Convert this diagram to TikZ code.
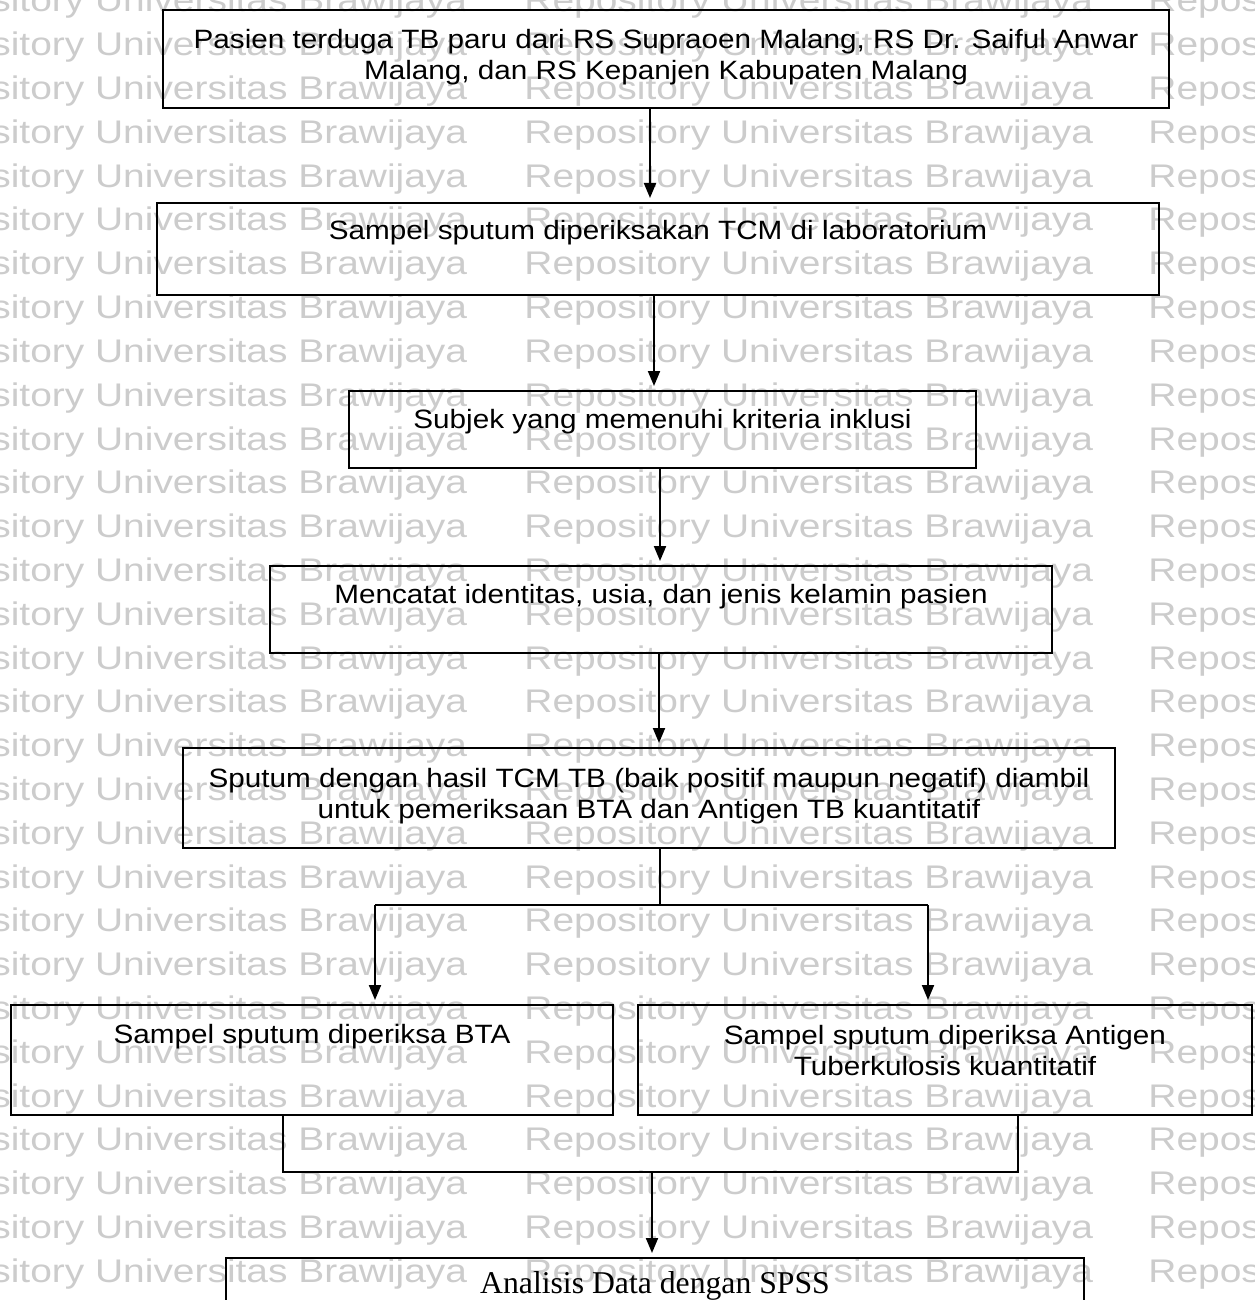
\documentclass[tikz,border=0pt]{standalone}
\usepackage{fontspec}
\setmainfont{Liberation Sans}
\newfontfamily\boxfont[FakeStretch=1.12]{Liberation Sans}
\newfontfamily\wmfont[FakeStretch=1.19]{Liberation Sans}
\newfontfamily\spssfont{Liberation Serif}
\usetikzlibrary{arrows.meta,calc}
\begin{document}
\begin{tikzpicture}[x=0.5pt,y=-0.5pt,
  stepbox/.style={draw=black, line width=1pt, inner sep=0pt, anchor=north west},
  boxtext/.style={font=\boxfont\fontsize{13.25pt}{15.5pt}\selectfont, align=center, anchor=base, inner sep=0pt},
  serifbox/.style={font=\spssfont\fontsize{15.85pt}{18pt}\selectfont, anchor=base, inner sep=0pt},
  wmtext/.style={font=\wmfont\fontsize{16.35pt}{18pt}\selectfont, text=black!20, anchor=base west, inner sep=0pt},
  link/.style={line width=1pt},
  arrowlink/.style={line width=1pt, -{Triangle[length=7.5pt,width=6pt]}, shorten >=2pt}
]
\useasboundingbox (0,0) rectangle (1254,1300);
\clip (0,0) rectangle (1254,1300);

% background repository stamp, repeated in rows
\foreach \n in {0,...,30} {
  \foreach \xs [count=\k] in {-102,524,1148} {
    \node[wmtext] (wm-\n-\k) at (\xs,{12+43.8*\n}) {Repository Universitas Brawijaya};
  }
}

% boxes
\node[stepbox, minimum width=503pt, minimum height=49pt] (b1) at (162,9) {};
\node[stepbox, minimum width=501pt, minimum height=46pt] (b2) at (156,202) {};
\node[stepbox, minimum width=313.5pt, minimum height=38.5pt] (b3) at (348,390) {};
\node[stepbox, minimum width=391pt, minimum height=43.5pt] (b4) at (269,565) {};
\node[stepbox, minimum width=466pt, minimum height=50pt] (b5) at (182,747) {};
\node[stepbox, minimum width=301pt, minimum height=55pt] (b6) at (10,1004) {};
\node[stepbox, minimum width=307pt, minimum height=55pt] (b7) at (637,1004) {};
\node[stepbox, minimum width=429pt, minimum height=50pt] (b8) at (225,1257) {};

% box texts (two-line texts are anchored on their last baseline)
\node[boxtext] (t1) at ($(b1.north)+(0,71)$) {Pasien terduga TB paru dari RS Supraoen Malang, RS Dr. Saiful Anwar\\Malang, dan RS Kepanjen Kabupaten Malang};
\node[boxtext] (t2) at ($(b2.north)+(0,38)$) {Sampel sputum diperiksakan TCM di laboratorium};
\node[boxtext] (t3) at ($(b3.north)+(0,38)$) {Subjek yang memenuhi kriteria inklusi};
\node[boxtext] (t4) at ($(b4.north)+(0,38)$) {Mencatat identitas, usia, dan jenis kelamin pasien};
\node[boxtext] (t5) at ($(b5.north)+(0,71)$) {Sputum dengan hasil TCM TB (baik positif maupun negatif) diambil\\untuk pemeriksaan BTA dan Antigen TB kuantitatif};
\node[boxtext] (t6) at ($(b6.north)+(0,39)$) {Sampel sputum diperiksa BTA};
\node[boxtext] (t7) at ($(b7.north)+(0,71)$) {Sampel sputum diperiksa Antigen\\Tuberkulosis kuantitatif};
\node[serifbox] (t8) at ($(b8.north)+(0,36)$) {Analisis Data dengan SPSS};

% straight flow
\coordinate (k1) at (650,0);
\coordinate (k2) at (654,0);
\coordinate (k3) at (660,0);
\coordinate (k4) at (659,0);
\draw[arrowlink] (b1.south -| k1) -- (b2.north -| k1);
\draw[arrowlink] (b2.south -| k2) -- (b3.north -| k2);
\draw[arrowlink] (b3.south -| k3) -- (b4.north -| k3);
\draw[arrowlink] (b4.south -| k4) -- (b5.north -| k4);

% split into the two examinations
\coordinate (j1) at (660,905);
\coordinate (jl) at (375,905);
\coordinate (jr) at (928,905);
\draw[link] (b5.south -| j1) -- (j1);
\draw[link] (jl) -- (jr);
\draw[arrowlink] (jl) -- (b6.north -| jl);
\draw[arrowlink] (jr) -- (b7.north -| jr);

% merge into the analysis
\coordinate (ml) at (283,1172);
\coordinate (mr) at (1018,1172);
\coordinate (mc) at (652,1172);
\draw[link] (b6.south -| ml) -- (ml) -- (mr) -- (b7.south -| mr);
\draw[arrowlink] (mc) -- (b8.north -| mc);
\end{tikzpicture}
\end{document}
